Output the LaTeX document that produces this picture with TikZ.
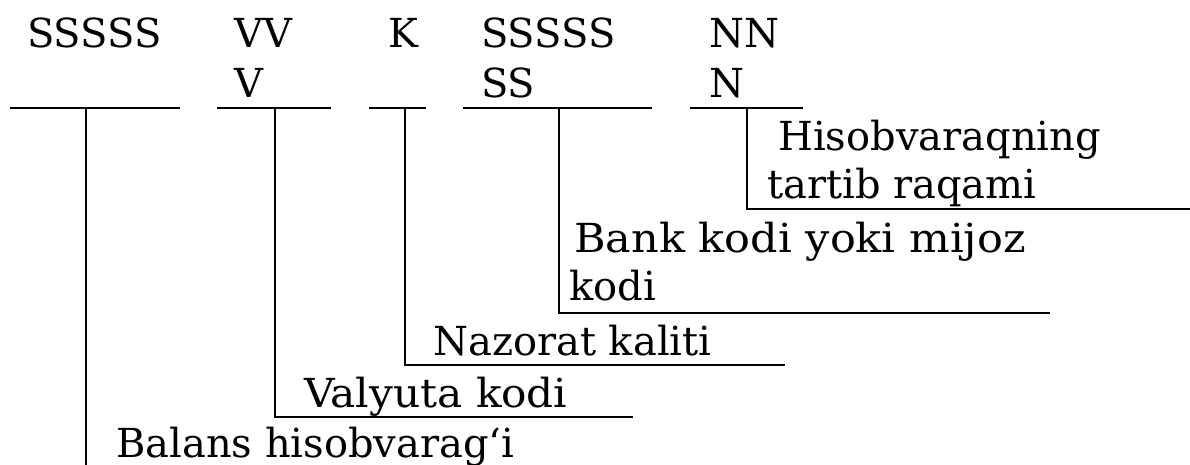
\documentclass[tikz,border=0pt]{standalone}
\usepackage{fontspec}
\setmainfont{DejaVu Serif}
\usepackage{tikz}

\begin{document}
\begin{tikzpicture}[x=1pt, y=-1pt, line width=2.4pt,
    code/.style = {anchor=base west, inner sep=0pt, font=\fontsize{40}{48}\selectfont},
    lbl/.style = {anchor=base west, inner sep=0pt, font=\fontsize{40}{48}\selectfont}]
    \useasboundingbox (0,0) rectangle (1190,465);

    \node[code] (bal1) at (26,48) {SSSSS};
    \node[code] (val1) at (233,48) {VV};
    \node[code] (val2) at (233,98) {V};
    \node[code] (naz1) at (387,48) {K};
    \node[code] (bank1) at (480,48) {SSSSS};
    \node[code] (bank2) at (480,98) {SS};
    \node[code] (num1) at (708,48) {NN};
    \node[code] (num2) at (708,98) {N};

    \coordinate (balL) at (10,108);
    \coordinate (balR) at (180,108);
    \coordinate (balT) at (86,108);
    \coordinate (balB) at (86,465);
    \coordinate (valL) at (217,108);
    \coordinate (valR) at (331,108);
    \coordinate (valT) at (275,108);
    \coordinate (valB) at (275,417);
    \coordinate (valE) at (633,417);
    \coordinate (nazL) at (369,108);
    \coordinate (nazR) at (426,108);
    \coordinate (nazT) at (405,108);
    \coordinate (nazB) at (405,365);
    \coordinate (nazE) at (785,365);
    \coordinate (bankL) at (463,108);
    \coordinate (bankR) at (652,108);
    \coordinate (bankT) at (559,108);
    \coordinate (bankB) at (559,313);
    \coordinate (bankE) at (1050,313);
    \coordinate (numL) at (690,108);
    \coordinate (numR) at (803,108);
    \coordinate (numT) at (747,108);
    \coordinate (numB) at (747,209);
    \coordinate (numE) at (1190,209);

    \node[lbl] (numlbl1) at (777,151) {Hisobvaraqning};
    \node[lbl] (numlbl2) at (766,198) {tartib raqami};
    \node[lbl] (banklbl1) at (573,252) {\scalebox{1.075}[1]{Bank kodi yoki mijoz}};
    \node[lbl] (banklbl2) at (568,300) {kodi};
    \node[lbl] (nazlbl) at (432,355) {Nazorat kaliti};
    \node[lbl] (vallbl) at (303,407) {\scalebox{1.055}[1]{Valyuta kodi}};
    \node[lbl] (ballbl) at (115,457) {Balans hisobvarag‘i};

    \draw (balL) -- (balR);
    \draw (balT) -- (balB);
    \draw (valL) -- (valR);
    \draw (valT) -- (valB) -- (valE);
    \draw (nazL) -- (nazR);
    \draw (nazT) -- (nazB) -- (nazE);
    \draw (bankL) -- (bankR);
    \draw (bankT) -- (bankB) -- (bankE);
    \draw (numL) -- (numR);
    \draw (numT) -- (numB) -- (numE);
\end{tikzpicture}
\end{document}
